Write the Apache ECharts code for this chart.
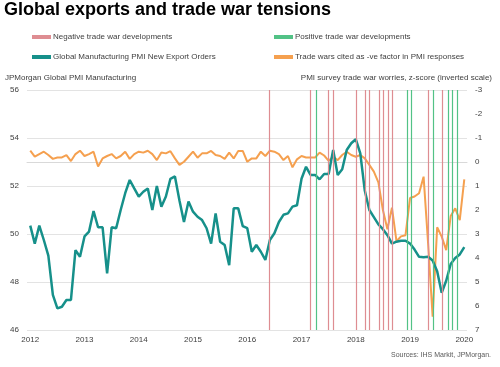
<!DOCTYPE html>
<html>
<head>
<meta charset="utf-8">
<script src="https://cdn.jsdelivr.net/npm/echarts@6/dist/echarts.min.js"></script>
<style>
html,body{margin:0;padding:0;background:#fff;}
#chart{width:500px;height:367px;}
</style>
</head>
<body>
<div id="chart"></div>
<script>
// ---- data ----
var startYear = 2012; // first observation: Jan 2012, monthly
var yearTicks = [2012, 2013, 2014, 2015, 2016, 2017, 2018, 2019, 2020];
// Global Manufacturing PMI New Export Orders (left axis)
var exportOrders = [
  50.35, 49.6, 50.35, 49.75, 49.1, 47.46, 46.9, 46.97, 47.25, 47.25, 49.33, 49.05,
  49.9, 50.1, 50.96, 50.28, 50.28, 48.36, 50.28, 50.24, 51.0, 51.7, 52.25, 51.9,
  51.56, 51.76, 51.9, 51.0, 52.0, 51.14, 51.56, 52.3, 52.4, 51.4, 50.5, 51.35,
  50.93, 50.72, 50.58, 50.24, 49.6, 50.86, 49.68, 49.54, 48.7, 51.07, 51.07, 50.33,
  50.24, 49.26, 49.54, 49.26, 48.92, 49.75, 50.03, 50.5, 50.8, 50.86, 51.14, 51.2,
  52.3, 52.8, 52.46, 52.46, 52.28, 52.5, 52.5, 53.5, 52.46, 52.7, 53.5, 53.78,
  53.95, 53.36, 51.8, 51.0, 50.7, 50.4, 50.2, 49.95, 49.6, 49.68, 49.72, 49.72,
  49.6, 49.35, 49.05, 49.03, 49.05, 48.9, 48.45, 47.55, 48.05, 48.75, 49.0, 49.15,
  49.45
];
// Trade wars cited as -ve factor in PMI responses, z-score (right axis, inverted)
var tradeWorries = [
  -0.47, -0.22, -0.33, -0.43, -0.29, -0.13, -0.19, -0.19, -0.29, -0.04, -0.33, -0.47,
  -0.25, -0.33, -0.43, 0.19, -0.15, -0.25, -0.33, -0.15, -0.25, -0.43, -0.13, -0.33,
  -0.43, -0.39, -0.47, -0.33, -0.08, -0.4, -0.36, -0.45, -0.15, 0.12, -0.01, -0.22,
  -0.43, -0.18, -0.36, -0.36, -0.46, -0.29, -0.25, -0.13, -0.39, -0.15, -0.46, -0.46,
  -0.01, -0.15, -0.15, -0.43, -0.25, -0.47, -0.43, -0.33, -0.08, -0.25, 0.22, -0.11,
  -0.25, -0.19, -0.19, -0.19, -0.39, -0.27, -0.05, -0.22, -0.08, -0.29, -0.43, -0.29,
  -0.22, -0.29, -0.15, 0.12, 0.4, 0.85, 2.0, 2.8, 1.9, 3.3, 3.1, 3.05,
  1.5, 1.44, 1.3, 0.61, 3.4, 6.45, 2.72, 3.11, 3.67, 2.25, 1.93, 2.42,
  0.72
];
// Event dates (decimal years)
var negativeEvents = [2016.41, 2017.16, 2017.50, 2017.58, 2018.01, 2018.17, 2018.25,
  2018.43, 2018.51, 2018.59, 2018.67, 2019.34, 2019.60];
var positiveEvents = [2017.27, 2018.95, 2019.03, 2019.43, 2019.70, 2019.78, 2019.865];

var NAMES = {
  neg: 'Negative trade war developments',
  pos: 'Positive trade war developments',
  pmi: 'Global Manufacturing PMI New Export Orders',
  tw: 'Trade wars cited as -ve factor in PMI responses'
};
var COL = { neg: '#de8d92', pos: '#52c286', pmi: '#16908a', tw: '#f5a04f' };

function toXY(arr) {
  return arr.map(function (v, i) { return [startYear + i / 12, v]; });
}
function eventLines(arr) {
  return arr.map(function (x) { return { xAxis: x }; });
}

var FONT = 'Liberation Sans, Arial, sans-serif';
var chart = echarts.init(document.getElementById('chart'), null, { renderer: 'canvas' });

var legendBase = {
  icon: 'rect', itemWidth: 19, itemHeight: 4, itemGap: 0, padding: 0,
  textStyle: { fontFamily: FONT, fontSize: 8, color: '#404040', padding: [0, 0, 0, -3] },
  selectedMode: false
};

chart.setOption({
  animation: false,
  backgroundColor: '#fff',
  textStyle: { fontFamily: FONT },
  title: [
    { text: 'Global exports and trade war tensions', left: 4, top: 1, padding: 0,
      textStyle: { fontFamily: FONT, fontSize: 18, fontWeight: 'bold', color: '#000' } },
    { text: 'JPMorgan Global PMI Manufacturing', left: 5, top: 74, padding: 0,
      textStyle: { fontFamily: FONT, fontSize: 8, fontWeight: 'normal', color: '#404040' } },
    { text: 'PMI survey trade war worries, z-score (inverted scale)', right: 8, top: 74, padding: 0,
      textStyle: { fontFamily: FONT, fontSize: 8, fontWeight: 'normal', color: '#404040' } },
    { text: 'Sources: IHS Markit, JPMorgan.', right: 9, top: 352, padding: 0,
      textStyle: { fontFamily: FONT, fontSize: 7, fontWeight: 'normal', color: '#595959' } }
  ],
  legend: [
    Object.assign({}, legendBase, { data: [NAMES.neg], left: 32, top: 33 }),
    Object.assign({}, legendBase, { data: [NAMES.pos], left: 274, top: 33 }),
    Object.assign({}, legendBase, { data: [NAMES.pmi], left: 32, top: 53 }),
    Object.assign({}, legendBase, { data: [NAMES.tw], left: 274, top: 53 })
  ],
  grid: { left: 27, right: 33, top: 90, bottom: 37, containLabel: false },
  xAxis: {
    type: 'value', min: 2011.94, max: 2020.05,
    axisLine: { show: true, lineStyle: { color: '#d9d9d9', width: 1 } },
    axisTick: { show: false },
    splitLine: { show: false },
    axisLabel: {
      customValues: yearTicks, margin: 6,
      fontFamily: FONT, fontSize: 8, color: '#404040',
      formatter: function (v) { return String(Math.round(v)); }
    }
  },
  yAxis: [
    {
      type: 'value', min: 46, max: 56, interval: 2, position: 'left',
      axisLine: { show: false }, axisTick: { show: false },
      splitLine: { show: true, lineStyle: { color: '#e3e3e3', width: 1.2 } },
      axisLabel: { margin: 8, fontFamily: FONT, fontSize: 8, color: '#404040' }
    },
    {
      type: 'value', min: -3, max: 7, interval: 1, inverse: true, position: 'right',
      axisLine: { show: false }, axisTick: { show: false },
      splitLine: { show: false },
      axisLabel: { margin: 8, fontFamily: FONT, fontSize: 8, color: '#404040' }
    }
  ],
  series: [
    {
      name: NAMES.neg, type: 'line', data: [], yAxisIndex: 0, z: 1,
      itemStyle: { color: COL.neg }, lineStyle: { color: COL.neg },
      markLine: {
        silent: true, symbol: ['none', 'none'], label: { show: false },
        lineStyle: { color: COL.neg, type: 'solid', width: 1.2 },
        data: eventLines(negativeEvents)
      }
    },
    {
      name: NAMES.pos, type: 'line', data: [], yAxisIndex: 0, z: 1,
      itemStyle: { color: COL.pos }, lineStyle: { color: COL.pos },
      markLine: {
        silent: true, symbol: ['none', 'none'], label: { show: false },
        lineStyle: { color: COL.pos, type: 'solid', width: 1.2 },
        data: eventLines(positiveEvents)
      }
    },
    {
      name: NAMES.tw, type: 'line', yAxisIndex: 1, z: 3,
      data: toXY(tradeWorries), showSymbol: false, symbol: 'none',
      itemStyle: { color: COL.tw },
      lineStyle: { color: COL.tw, width: 2 }
    },
    {
      name: NAMES.pmi, type: 'line', yAxisIndex: 0, z: 4,
      data: toXY(exportOrders), showSymbol: false, symbol: 'none',
      itemStyle: { color: COL.pmi },
      lineStyle: { color: COL.pmi, width: 2.5 }
    }
  ]
});
</script>
</body>
</html>
